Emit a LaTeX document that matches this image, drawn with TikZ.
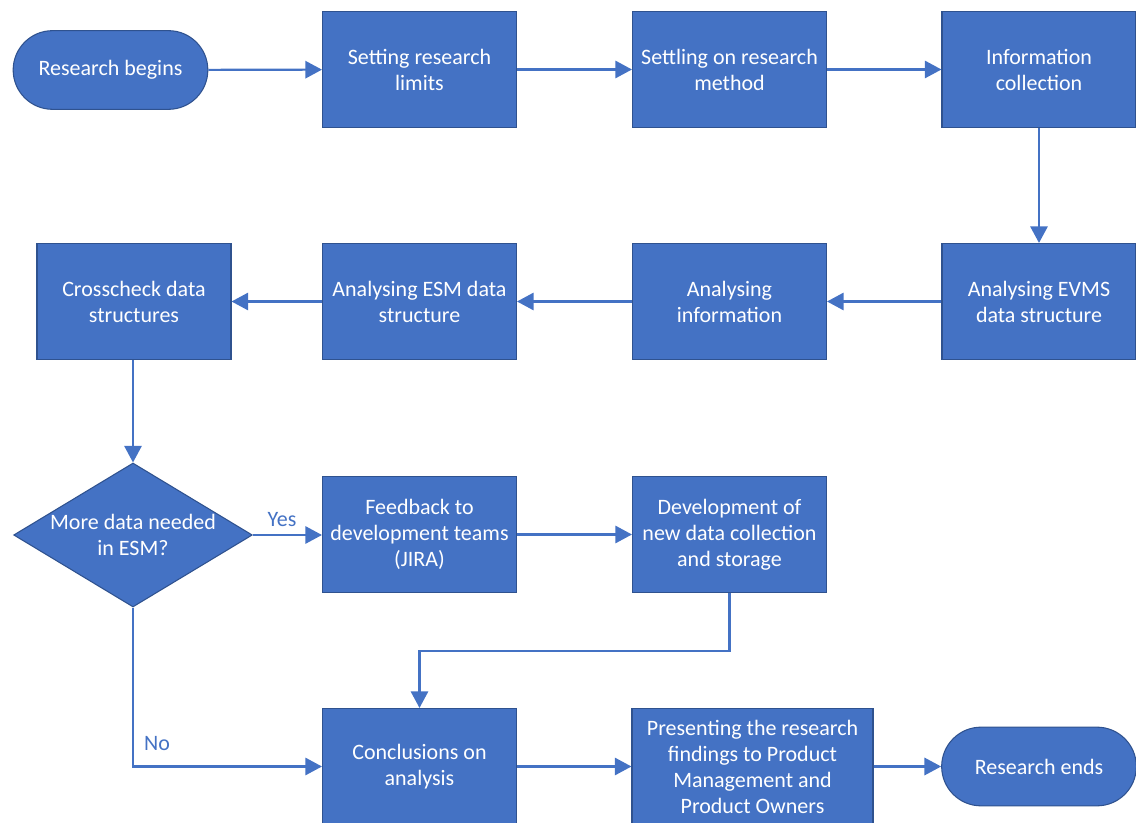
\documentclass[tikz,border=0pt]{standalone}
\usepackage{fontspec}
\setmainfont{Carlito}
\usetikzlibrary{shapes.geometric,arrows.meta}
\definecolor{boxfill}{HTML}{4472C4}
\definecolor{boxline}{HTML}{2F528F}
\definecolor{linkblue}{HTML}{4472C4}

\tikzset{
  base/.style={draw=boxline, line width=0.8pt, fill=boxfill, text=white,
    font=\fontsize{16.5}{19.5}\selectfont, align=center, inner sep=0pt},
  procbox/.style={base, rectangle, minimum width=145.5pt, minimum height=87pt},
  terminal/.style={base, rectangle, rounded corners=29.5pt,
    minimum width=146pt, minimum height=59pt},
  decision/.style={base, diamond, minimum width=179pt, minimum height=108pt},
  arr/.style={draw=linkblue, line width=1.6pt,
    -{Triangle[length=12.5pt,width=13pt]}},
  lbl/.style={text=linkblue, font=\fontsize{16.5}{19.5}\selectfont, inner sep=0pt}
}

\begin{document}
\begin{tikzpicture}[x=0.75pt,y=-0.75pt]
\useasboundingbox (0,0) rectangle (1136,823);

% first row
\node[terminal] (start)   at (110.5,70)  {Research begins};
\node[procbox]  (limits)  at (419.5,69.5) {Setting research\\limits};
\node[procbox]  (method)  at (729.5,69.5) {Settling on research\\method};
\node[procbox]  (collect) at (1039,69.5)  {Information\\collection};

% second row
\node[procbox] (evms)  at (1039,301.5)  {Analysing EVMS\\data structure};
\node[procbox] (info)  at (729.5,301.5) {Analysing\\information};
\node[procbox] (esm)   at (419.5,301.5) {Analysing ESM data\\structure};
\node[procbox] (cross) at (134,301.5)   {Crosscheck data\\structures};

% decision row
\node[decision] (dec) at (133,535) {};
\node[text=white, font=\fontsize{16.5}{19.5}\selectfont, align=center, inner sep=0pt]
  (dectext) at (dec.center) {More data needed\\in ESM?};
\node[procbox] (feed) at (419.5,534.5) {Feedback to\\development teams\\(JIRA)};
\node[procbox] (dev)  at (729.5,534.5) {Development of\\new data collection\\and storage};

% last row
\node[procbox]  (concl) at (419.5,766.5) {Conclusions on\\analysis};
\node[procbox, minimum width=180.75pt] (pres) at (752.5,766.5)
  {Presenting the research\\findings to Product\\Management and\\Product Owners};
\node[terminal] (stop)  at (1039,766.5) {Research ends};

% connectors
\draw[arr] (start) -- (limits);
\draw[arr] (limits) -- (method);
\draw[arr] (method) -- (collect);
\draw[arr] (collect) -- (evms);
\draw[arr] (evms) -- (info);
\draw[arr] (info) -- (esm);
\draw[arr] (esm) -- (cross);
\draw[arr] (cross.south -| dec.north) -- (dec.north);
\draw[arr] (dec.east) -- (feed.west |- dec.east);
\draw[arr] (feed) -- (dev);
\draw[arr] (dev.south) -- ++(0,58) -| (concl.north);
\draw[arr] (dec.south) |- (concl.west);
\draw[arr] (concl) -- (pres);
\draw[arr] (pres.east |- stop.west) -- (stop.west);

% branch labels
\node[lbl] (yes) at (282,520) {Yes};
\node[lbl] (no)  at (157,744) {No};
\end{tikzpicture}
\end{document}
